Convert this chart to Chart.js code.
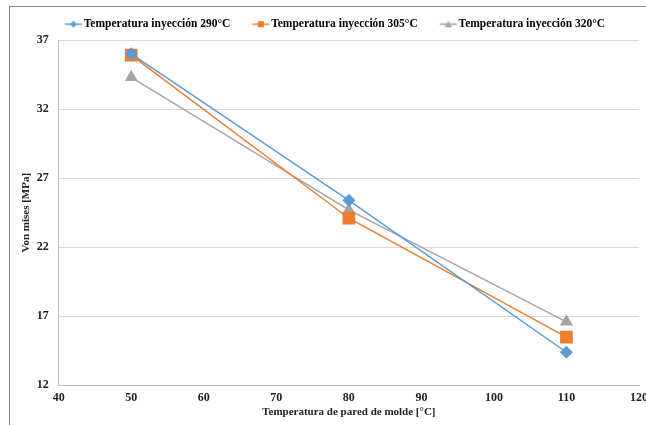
<!DOCTYPE html>
<html lang="es">
<head>
    <meta charset="UTF-8">
    <title>Von mises vs temperatura de pared de molde</title>
    <script src="https://cdn.jsdelivr.net/npm/chart.js"></script>
    <style>
        html, body { margin: 0; padding: 0; background: #fff; overflow: hidden; }
        body { width: 646px; height: 425px; position: relative; }
        .frame { position: absolute; left: 9px; top: 6px; width: 660px; height: 440px;
                 border-top: 1px solid #8a8a8a; border-left: 1px solid #8a8a8a; }
        canvas { position: absolute; left: 0; top: 0; }
    </style>
</head>
<body>
    <div class="frame">
        <canvas id="chart" width="643" height="420"></canvas>
    </div>

    <script>
        // datos
        let wallTemps = [50, 80, 110];
        let series290 = [36.0, 25.4, 14.4];
        let series305 = [35.9, 24.1, 15.5];
        let series320 = [34.3, 24.7, 16.6];
        let seriesNames = ["Temperatura inyección 290°C", "Temperatura inyección 305°C", "Temperatura inyección 320°C"];
        let xTicks = [40, 50, 60, 70, 80, 90, 100, 110, 120];
        let yTicks = [12, 17, 22, 27, 32, 37];

        const blue = "#5B9BD5", orange = "#ED7D31", gray = "#A5A5A5";
        const tickFont = { family: "'Liberation Serif', serif", size: 12, weight: "bold" };
        const titleFont = { family: "'Liberation Serif', serif", size: 11, weight: "bold" };
        const legendFont = { family: "'Liberation Serif', serif", size: 11.5, weight: "bold" };

        // icono de leyenda: linea + marcador (parte visible a la derecha del lienzo)
        function legendIcon(color, style) {
            let c = document.createElement("canvas");
            c.width = 36; c.height = 8;
            let g = c.getContext("2d");
            g.strokeStyle = color; g.fillStyle = color; g.lineWidth = 1.5;
            g.beginPath(); g.moveTo(16.5, 4); g.lineTo(33.5, 4); g.stroke();
            g.beginPath();
            let m = 25;
            if (style === "rectRot") { g.moveTo(m, 0.5); g.lineTo(m + 3.5, 4); g.lineTo(m, 7.5); g.lineTo(m - 3.5, 4); }
            else if (style === "rect") { g.rect(m - 3, 1, 6, 6); }
            else { g.moveTo(m, 0.5); g.lineTo(m + 3.5, 7); g.lineTo(m - 3.5, 7); }
            g.closePath(); g.fill();
            return c;
        }

        function toPoints(ys) {
            return wallTemps.map((x, i) => ({ x: x, y: ys[i] }));
        }

        function makeSet(label, ys, color, style, radius) {
            return {
                label: label,
                data: toPoints(ys),
                borderColor: color,
                backgroundColor: color,
                borderWidth: 1.5,
                pointStyle: style,
                pointRadius: radius,
                pointHoverRadius: radius,
                pointBorderWidth: 0,
                legendIcon: legendIcon(color, style)
            };
        }

        // la leyenda de la figura original esta corrida a la izquierda
        const legendShift = {
            id: "legendShift",
            afterLayout(chart) {
                chart.legend.left += 23.5;
                chart.legend.right += 23.5;
            }
        };

        new Chart(document.getElementById("chart"), {
            type: "line",
            data: {
                datasets: [
                    makeSet(seriesNames[0], series290, blue, "rectRot", 6.5),
                    makeSet(seriesNames[1], series305, orange, "rect", 9),
                    makeSet(seriesNames[2], series320, gray, "triangle", 7.5)
                ]
            },
            options: {
                responsive: false,
                animation: false,
                layout: { padding: { top: -0.5, left: 9.5, right: 0, bottom: 8 } },
                plugins: {
                    tooltip: { enabled: false },
                    legend: {
                        position: "top",
                        align: "start",
                        labels: {
                            font: legendFont,
                            color: "#222",
                            usePointStyle: true,
                            pointStyleWidth: 23,
                            boxHeight: 12,
                            padding: 12,
                            generateLabels(chart) {
                                return chart.data.datasets.map((ds, i) => ({
                                    text: ds.label,
                                    pointStyle: ds.legendIcon,
                                    fillStyle: ds.borderColor,
                                    strokeStyle: ds.borderColor,
                                    lineWidth: 0,
                                    datasetIndex: i,
                                    hidden: false
                                }));
                            }
                        }
                    }
                },
                scales: {
                    x: {
                        type: "linear",
                        min: xTicks[0],
                        max: xTicks[xTicks.length - 1],
                        afterBuildTicks(axis) { axis.ticks = xTicks.map(v => ({ value: v })); },
                        grid: { display: false, drawTicks: false },
                        border: { display: true, color: "#BFBFBF", width: 1 },
                        ticks: { font: tickFont, color: "#222", padding: 5 },
                        title: { display: true, text: "Temperatura de pared de molde [°C]", font: titleFont, color: "#222", padding: { top: -4, bottom: 0 } }
                    },
                    y: {
                        min: yTicks[0],
                        max: yTicks[yTicks.length - 1],
                        afterBuildTicks(axis) { axis.ticks = yTicks.map(v => ({ value: v })); },
                        grid: { color: "#D9D9D9", drawTicks: false },
                        border: { display: true, color: "#BFBFBF", width: 1 },
                        ticks: { font: tickFont, color: "#222", padding: 10 },
                        title: { display: true, text: "Von mises [MPa]", font: titleFont, color: "#222", padding: { top: 0, bottom: -6 } }
                    }
                }
            },
            plugins: [legendShift]
        });
    </script>
</body>
</html>
